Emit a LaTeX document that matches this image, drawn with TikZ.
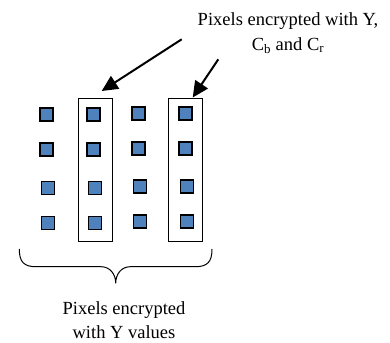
\documentclass[tikz,border=0pt]{standalone}
\usepackage{fontspec}
\setmainfont{Liberation Serif}
\usetikzlibrary{arrows.meta}
\definecolor{pixblue}{HTML}{4F81BD}
\tikzset{
  pix/.style={draw=black, line width=1.8pt, fill=pixblue, minimum size=13pt, inner sep=0pt},
  group/.style={draw=black, line width=1pt, inner sep=0pt},
  pointer/.style={draw=black, line width=2pt, -{Triangle[length=16pt,width=15pt]}},
  lbl/.style={align=center, font=\fontsize{18.5}{24.5}\selectfont, inner sep=0pt}
}
\begin{document}
\begin{tikzpicture}[x=1pt,y=-1pt]
\useasboundingbox (0,0) rectangle (390,342);
% pixel squares
\node[pix] (p11) at (46.5,114.7) {};
\node[pix] (p12) at (46.5,149.7) {};
\node[pix] (p13) at (48,188) {};
\node[pix] (p14) at (48,223) {};
\node[pix] (p21) at (93.7,114.7) {};
\node[pix] (p22) at (93.7,149.7) {};
\node[pix] (p23) at (95,188) {};
\node[pix] (p24) at (95,223) {};
\node[pix] (p31) at (138.3,113.5) {};
\node[pix] (p32) at (138.3,148.7) {};
\node[pix] (p33) at (140,186.3) {};
\node[pix] (p34) at (140,221.3) {};
\node[pix] (p41) at (185.3,113.5) {};
\node[pix] (p42) at (185.3,148.7) {};
\node[pix] (p43) at (187,186.3) {};
\node[pix] (p44) at (187,221.3) {};
% group rectangles
\node[group, minimum width=34pt, minimum height=142.7pt] (g2) at (95.3,169.7) {};
\node[group, minimum width=33.7pt, minimum height=143.4pt] (g4) at (185.8,170) {};
% top label and arrows
\node[lbl] (top) at (288,33) {Pixels encrypted with Y,\\C\textsubscript{b} and C\textsubscript{r}};
\coordinate (a1s) at (181.7,39.3);
\coordinate (a1t) at (101.7,91);
\coordinate (a2s) at (218.3,59.3);
\coordinate (a2t) at (192.7,97.5);
\draw[pointer] (a1s) -- (a1t);
\draw[pointer] (a2s) -- (a2t);
% brace
\coordinate (bl) at (19.3,249);
\coordinate (br) at (212,249);
\coordinate (bt) at (115.7,283.3);
\draw[line width=1pt] (bl) .. controls (19.3,262) and (24,266.7) .. (36,266.7)
  -- (101,266.7) .. controls (110,266.7) and (115.7,274) .. (bt)
  .. controls (115.7,274) and (121.4,266.7) .. (130.4,266.7)
  -- (195.3,266.7) .. controls (207.3,266.7) and (212,262) .. (br);
% bottom label
\node[lbl] (bottom) at (124,320) {Pixels encrypted\\with Y values};
\end{tikzpicture}
\end{document}
